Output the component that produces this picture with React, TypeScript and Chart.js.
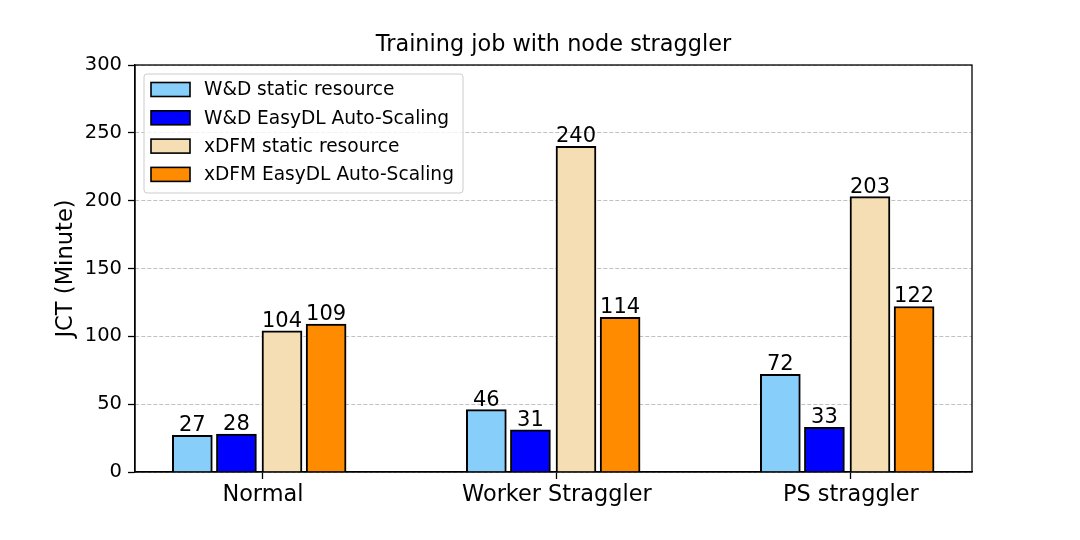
import React, { useEffect, useRef } from "react";
import { Chart, registerables } from "chart.js";

Chart.register(...registerables);

const categories = ["Normal", "Worker Straggler", "PS straggler"];
const seriesLabels = [
  "W&D static resource",
  "W&D EasyDL Auto-Scaling",
  "xDFM static resource",
  "xDFM EasyDL Auto-Scaling",
];
const wdStatic = [27, 46, 72];
const wdEasyDL = [28, 31, 33];
const xdfmStatic = [104, 240, 203];
const xdfmEasyDL = [109, 114, 122];
const seriesValues = [wdStatic, wdEasyDL, xdfmStatic, xdfmEasyDL];
const seriesColors = ["#87CEFA", "#0000FF", "#F5DEB3", "#FF8C00"];
const barOffsets = [-0.24, -0.09, 0.065, 0.215];
const yTickValues = [0, 50, 100, 150, 200, 250, 300];
const chartTitle = "Training job with node straggler";

const FONT = "'DejaVu Sans', sans-serif";

const overlayPlugin = {
  id: "overlay",
  afterDraw(chart: any) {
    const ctx = chart.ctx;
    const ca = chart.chartArea;
    ctx.save();
    ctx.setLineDash([]);
    // frame
    ctx.strokeStyle = "#000";
    ctx.lineWidth = 1.3;
    ctx.strokeRect(ca.left, ca.top, ca.right - ca.left, ca.bottom - ca.top);

    // title
    ctx.fillStyle = "#000";
    ctx.font = `22.4px ${FONT}`;
    ctx.textAlign = "center";
    ctx.textBaseline = "middle";
    ctx.fillText(chartTitle, (ca.left + ca.right) / 2, ca.top - 20);

    // value labels
    ctx.font = `21px ${FONT}`;
    ctx.textAlign = "center";
    ctx.textBaseline = "alphabetic";
    chart.data.datasets.forEach((ds: any, di: number) => {
      const meta = chart.getDatasetMeta(di);
      meta.data.forEach((el: any, i: number) => {
        const v = ds.data[i].y;
        ctx.fillText(String(v), el.x, el.y - 4);
      });
    });

    // legend
    const lx = ca.left + 9;
    const ly = ca.top + 9;
    const lw = 319;
    const lh = 119;
    ctx.beginPath();
    if ((ctx as any).roundRect) (ctx as any).roundRect(lx, ly, lw, lh, 3);
    else ctx.rect(lx, ly, lw, lh);
    ctx.fillStyle = "rgba(255,255,255,0.8)";
    ctx.fill();
    ctx.strokeStyle = "#cccccc";
    ctx.lineWidth = 1;
    ctx.stroke();
    ctx.font = `18.6px ${FONT}`;
    ctx.textAlign = "left";
    ctx.textBaseline = "middle";
    chart.data.datasets.forEach((ds: any, di: number) => {
      const cy = ly + 15.5 + di * 28.3;
      ctx.fillStyle = ds.backgroundColor;
      ctx.fillRect(lx + 7, cy - 7, 39, 14);
      ctx.strokeStyle = "#000";
      ctx.lineWidth = 1.6;
      ctx.strokeRect(lx + 7, cy - 7, 39, 14);
      ctx.fillStyle = "#000";
      ctx.fillText(ds.label, lx + 60, cy + 1);
    });
    ctx.restore();
  },
};

export default function App() {
  const canvasRef = useRef<HTMLCanvasElement | null>(null);

  useEffect(() => {
    document.body.style.margin = "0";
    const canvas = canvasRef.current;
    if (!canvas) return;
    const datasets = seriesValues.map((vals, si) => ({
      label: seriesLabels[si],
      data: vals.map((v, i) => ({ x: i + barOffsets[si], y: v })),
      backgroundColor: seriesColors[si],
      borderColor: "#000",
      borderWidth: 2,
      barThickness: 40,
      grouped: false,
    }));
    const chart = new Chart(canvas, {
      type: "bar",
      data: { datasets },
      plugins: [overlayPlugin],
      options: {
        responsive: false,
        animation: false,
        devicePixelRatio: 1,
        layout: { padding: { left: 0, right: 108, top: 65, bottom: 0 } },
        plugins: {
          legend: { display: false },
          tooltip: { enabled: false },
          title: { display: false },
        },
        scales: {
          x: {
            type: "linear",
            offset: false,
            min: -0.435,
            max: 2.412,
            z: 2,
            afterBuildTicks: (s: any) => {
              s.ticks = categories.map((_, i) => ({ value: i }));
            },
            afterFit: (s: any) => {
              s.height = 68;
            },
            ticks: {
              callback: (v: any) => categories[Math.round(Number(v))] ?? "",
              color: "#000",
              font: { family: FONT, size: 22.4 },
              padding: 3,
              autoSkip: false,
              maxRotation: 0,
            },
            grid: {
              offset: false,
              drawOnChartArea: false,
              drawTicks: true,
              tickLength: 7,
              tickColor: "#000",
              tickWidth: 1.3,
              color: "#000",
            },
            border: { display: true, color: "#000", width: 1.3 },
          },
          y: {
            min: 0,
            max: 300,
            z: 1,
            afterBuildTicks: (s: any) => {
              s.ticks = yTickValues.map((v) => ({ value: v }));
            },
            afterFit: (s: any) => {
              s.width = 135;
            },
            ticks: {
              color: "#000",
              font: { family: FONT, size: 19.5 },
              padding: 6,
            },
            grid: {
              color: "#b0b0b0",
              lineWidth: 0.8,
              drawTicks: true,
              tickLength: 7,
              tickColor: "#000",
              tickWidth: 1.3,
              tickBorderDash: [],
            },
            border: { display: true, color: "#000", width: 1.3, dash: [4, 2] },
            title: {
              display: true,
              text: "JCT (Minute)",
              color: "#000",
              font: { family: FONT, size: 22.6 },
              padding: { top: 53, bottom: 0 },
            },
          },
        },
      } as any,
    });
    return () => chart.destroy();
  }, []);

  return (
    <div style={{ width: 1080, height: 540, background: "#fff" }}>
      <canvas ref={canvasRef} width={1080} height={540} />
    </div>
  );
}
